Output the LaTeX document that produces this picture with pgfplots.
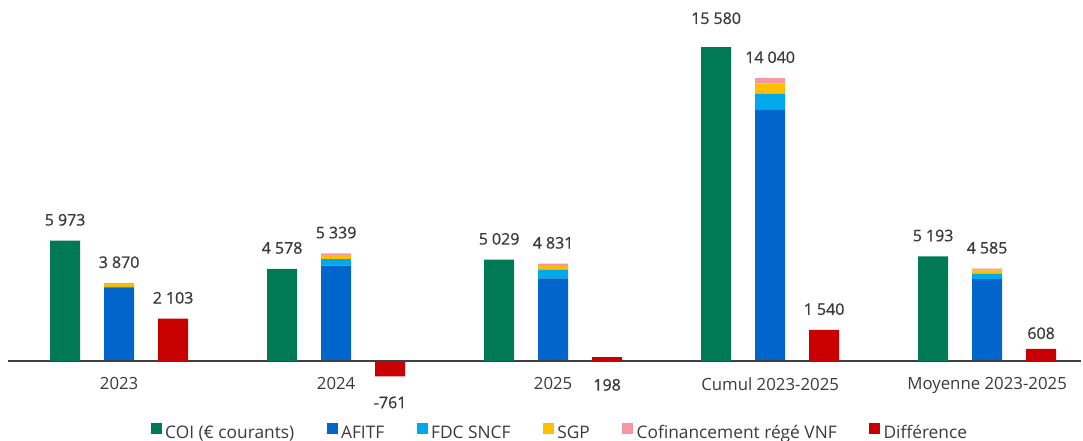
\documentclass[border=0pt]{standalone}
\usepackage{pgfplots}
\pgfplotsset{compat=1.18}
\usepackage{fontspec}
\setmainfont{Open Sans}
\newfontfamily\numfont{Open Sans}[FakeBold=0.8]

\definecolor{coi}{RGB}{0,122,84}
\definecolor{afitf}{RGB}{0,102,204}
\definecolor{fdc}{RGB}{0,168,236}
\definecolor{sgp}{RGB}{255,190,0}
\definecolor{vnf}{RGB}{244,151,160}
\definecolor{diff}{RGB}{200,0,0}
\definecolor{lbl}{RGB}{58,58,58}

\pgfplotsset{
  chartbase/.style={
    width=804.8pt, height=253.6pt, scale only axis,
    at={(0,0)}, anchor=south west,
    xmin=-0.512, xmax=4.433, ymin=-1200, ymax=15580,
    clip=false,
    bar width=22.5pt,
  },
  sqleg/.style={legend image code/.code={\fill[##1] (0pt,-0.5pt) rectangle (8.25pt,7.75pt);}},
}

\begin{document}
\begin{tikzpicture}
% stacked financing bars (centre of each group)
\begin{axis}[chartbase, ybar stacked, axis lines=none, xtick=\empty, ytick=\empty]
\addplot[fill=afitf, draw=none, bar shift=0pt] coordinates {(0,3620) (1,4730) (2,4100) (3,12450) (4,4060)};
\addplot[fill=fdc, draw=none, bar shift=0pt] coordinates {(0,60) (1,330) (2,420) (3,810) (4,265)};
\addplot[fill=sgp, draw=none, bar shift=0pt] coordinates {(0,130) (1,190) (2,200) (3,520) (4,175)};
\addplot[fill=vnf, draw=none, bar shift=0pt] coordinates {(0,60) (1,89) (2,111) (3,260) (4,85)};
\end{axis}

% COI, difference, totals, axis and legend
\begin{axis}[chartbase, ybar,
  axis x line=middle, axis y line=none,
  axis line style={-, draw=black!75, line width=0.8pt},
  xtick={0,1,2,3,4},
  xticklabels={2023, 2024, 2025, Cumul 2023-2025, Moyenne 2023-2025},
  major tick length=0pt,
  xticklabel style={font=\fontsize{12.6}{14}\selectfont, text=lbl, inner sep=0pt, anchor=north, yshift=-12pt},
  /pgf/number format/1000 sep={\hspace{0.25em}},
  /pgf/number format/assume math mode=true,
  every node near coord/.append style={font=\numfont\fontsize{12}{14}\selectfont, text=lbl, inner sep=0pt, yshift=11pt},
  legend columns=6,
  legend style={at={(0.515,-0.1414)}, anchor=center, draw=none, fill=none,
    font=\fontsize{13}{15}\selectfont, text=lbl,
    /tikz/every even column/.append style={column sep=22pt},
    nodes={inner sep=2.4pt}},
]
\addplot[fill=coi, draw=none, bar shift=-40.5pt, sqleg, nodes near coords,
  coordinate style/.condition={y>15000}{yshift=6pt}]
  coordinates {(0,5973) (1,4578) (2,5029) (3,15580) (4,5193)};
\addlegendentry{COI (€ courants)}
\addlegendimage{sqleg, fill=afitf, draw=none}
\addlegendentry{AFITF}
\addlegendimage{sqleg, fill=fdc, draw=none}
\addlegendentry{FDC SNCF}
\addlegendimage{sqleg, fill=sgp, draw=none}
\addlegendentry{SGP}
\addlegendimage{sqleg, fill=vnf, draw=none}
\addlegendentry{Cofinancement régé VNF}
\addplot[fill=diff, draw=none, bar shift=40.5pt, sqleg, nodes near coords,
  coordinate style/.condition={y<0}{yshift=-26pt},
  coordinate style/.condition={y>0 && y<300}{yshift=-36.5pt},
  coordinate style/.condition={y>600 && y<620}{yshift=-4pt}]
  coordinates {(0,2103) (1,-761) (2,198) (3,1540) (4,608)};
\addlegendentry{Différence}
% totals of the stacked bars
\addplot[draw=none, fill=none, bar shift=0pt, nodes near coords, forget plot]
  coordinates {(0,3870) (1,5339) (2,4831) (3,14040) (4,4585)};
\end{axis}
\pgfresetboundingbox
\useasboundingbox (-6pt,-41.85pt) rectangle (806.25pt,288.9pt);
\end{tikzpicture}
\end{document}
